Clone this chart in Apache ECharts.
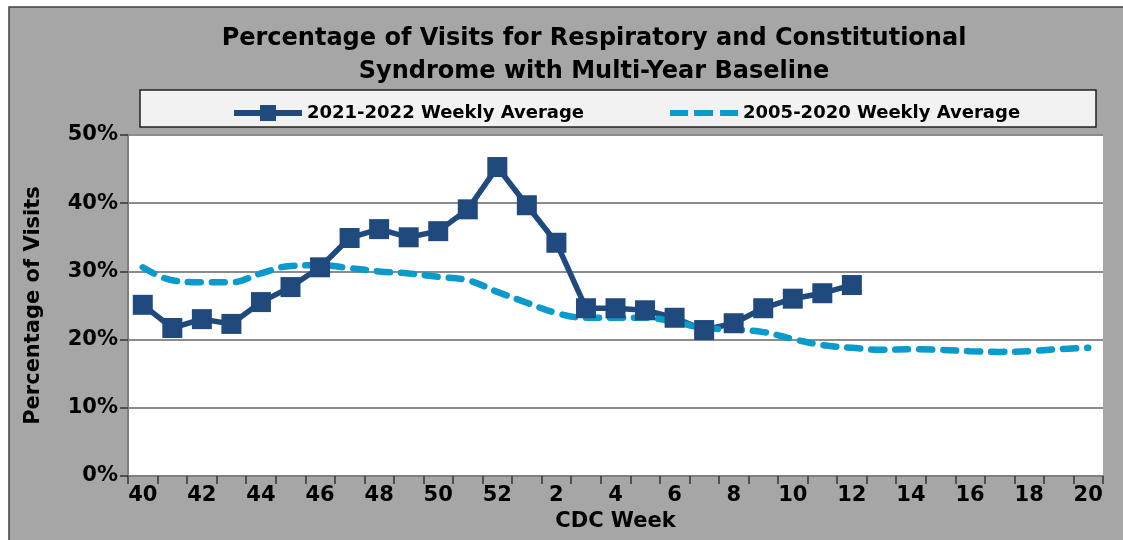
<!DOCTYPE html>
<html>
<head>
<meta charset="utf-8">
<script src="https://cdn.jsdelivr.net/npm/echarts@6/dist/echarts.min.js"></script>
<style>
  html, body { margin: 0; padding: 0; background: #fff; }
  #main { width: 1123px; height: 540px; }
</style>
</head>
<body>
<div id="main"></div>
<script>
// CDC weeks: 40..52 then 1..20
var weeks = ['40','41','42','43','44','45','46','47','48','49','50','51','52',
  '1','2','3','4','5','6','7','8','9','10','11','12','13','14','15','16','17','18','19','20'];

// 2021-2022 weekly average (%), ends at week 12
var season2122 = [25.1, 21.7, 23.0, 22.3, 25.5, 27.7, 30.6, 34.9, 36.2, 35.0, 35.9, 39.1, 45.3,
  39.7, 34.2, 24.6, 24.6, 24.3, 23.2, 21.4, 22.4, 24.6, 26.0, 26.8, 28.0];

// 2005-2020 weekly average baseline (%)
var baseline = [30.6, 28.7, 28.4, 28.4, 29.7, 30.8, 30.9, 30.5, 30.0, 29.7, 29.2, 28.7, 27.0,
  25.4, 23.9, 23.2, 23.2, 23.2, 22.6, 21.7, 21.5, 21.1, 20.1, 19.2, 18.8, 18.5, 18.6, 18.5,
  18.3, 18.2, 18.3, 18.6, 18.8];

var yTicks = [0, 10, 20, 30, 40, 50];

var font = '"DejaVu Sans", sans-serif';
var chart = echarts.init(document.getElementById('main'));

// legend icons: thick line with a square, and three short dashes
var iconSquareLine = 'path://M0,6h68v6h-68z M26,1h16v16h-16z';
var iconDashes = 'path://M0,6h18v6h-18z M24,6h19v6h-19z M50,6h18v6h-18z';

chart.setOption({
  animation: false,
  backgroundColor: '#fff',
  graphic: [
    { type: 'rect', z: -10, shape: { x: 9, y: 7, width: 1130, height: 550 },
      style: { fill: '#a6a6a6', stroke: '#404040', lineWidth: 1.5 } },
    { type: 'rect', z: -9, shape: { x: 140, y: 90, width: 956, height: 37 },
      style: { fill: '#f2f2f2', stroke: '#222', lineWidth: 1.5 } }
  ],
  title: {
    text: 'Percentage of Visits for Respiratory and Constitutional\nSyndrome with Multi-Year Baseline',
    left: 589,
    textAlign: 'center',
    top: 17,
    textStyle: { fontFamily: font, fontSize: 24, fontWeight: 'bold', color: '#000', lineHeight: 33 }
  },
  legend: {
    data: [
      { name: '2021-2022 Weekly Average', icon: iconSquareLine },
      { name: '2005-2020 Weekly Average', icon: iconDashes }
    ],
    left: 229,
    top: 99,
    itemWidth: 68,
    itemHeight: 18,
    itemGap: 86,
    textStyle: { fontFamily: font, fontSize: 18, fontWeight: 'bold', color: '#000' }
  },
  grid: {
    left: 128, right: 20, top: 135, bottom: 64,
    show: true, backgroundColor: '#fff', borderWidth: 0
  },
  xAxis: {
    type: 'category',
    data: weeks,
    boundaryGap: true,
    name: 'CDC Week',
    nameLocation: 'middle',
    nameGap: 34,
    nameTextStyle: { fontFamily: font, fontSize: 21, fontWeight: 'bold', color: '#000' },
    axisLine: { lineStyle: { color: '#7f7f7f', width: 2 } },
    axisTick: { show: true, interval: 0, length: 8, lineStyle: { color: '#333', width: 1.5 } },
    axisLabel: { interval: 1, margin: 9, fontFamily: font, fontSize: 21, fontWeight: 'bold', color: '#000' }
  },
  yAxis: {
    type: 'value',
    min: yTicks[0],
    max: yTicks[yTicks.length - 1],
    interval: 10,
    name: 'Percentage of Visits',
    nameLocation: 'middle',
    nameGap: 84,
    nameTextStyle: { fontFamily: font, fontSize: 21, fontWeight: 'bold', color: '#000' },
    axisLine: { show: true, lineStyle: { color: '#7f7f7f', width: 2 } },
    axisTick: { show: true, length: 8, lineStyle: { color: '#333', width: 1.5 } },
    axisLabel: { margin: 10, formatter: '{value}%', fontFamily: font, fontSize: 21, fontWeight: 'bold', color: '#000' },
    splitLine: { lineStyle: { color: '#8c8c8c', width: 2 } }
  },
  series: [
    {
      name: '2021-2022 Weekly Average',
      type: 'line',
      data: season2122,
      symbol: 'rect',
      symbolSize: 20,
      showAllSymbol: true,
      itemStyle: { color: '#204a7e' },
      lineStyle: { color: '#204a7e', width: 5.5 }
    },
    {
      name: '2005-2020 Weekly Average',
      type: 'line',
      data: baseline,
      smooth: 0.4,
      symbol: 'none',
      itemStyle: { color: '#0a9acb' },
      lineStyle: { color: '#0a9acb', width: 6.5, type: [13, 11], cap: 'round' }
    }
  ]
});
</script>
</body>
</html>
